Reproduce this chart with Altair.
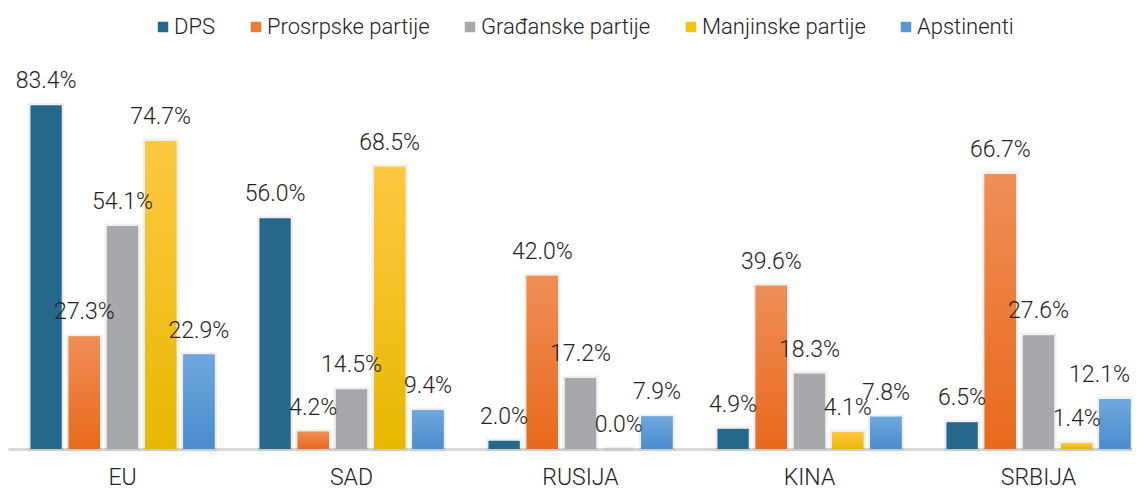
import altair as alt
import pandas as pd

groups = ["EU", "SAD", "RUSIJA", "KINA", "SRBIJA"]
series = ["DPS", "Prosrpske partije", "Građanske partije", "Manjinske partije", "Apstinenti"]

dps = [83.4, 56.0, 2.0, 4.9, 6.5]
prosrpske = [27.3, 4.2, 42.0, 39.6, 66.7]
gradjanske = [54.1, 14.5, 17.2, 18.3, 27.6]
manjinske = [74.7, 68.5, 0.0, 4.1, 1.4]
apstinenti = [22.9, 9.4, 7.9, 7.8, 12.1]

solid = ["#26678C", "#EC7A30", "#A6A8AB", "#F7C20A", "#5898D6"]
grad_top = ["#26678C", "#F08E57", "#A6A8AB", "#FFC843", "#6FA8DC"]
grad_bot = ["#26678C", "#E8691B", "#A6A8AB", "#E8B800", "#4A8CCF"]

rows = []
for s, vals in zip(series, [dps, prosrpske, gradjanske, manjinske, apstinenti]):
    for g, v in zip(groups, vals):
        rows.append({"group": g, "series": s, "value": v})
df = pd.DataFrame(rows)
df["label"] = df["value"].map(lambda v: f"{v:.1f}%")

FONT = "Roboto"
FW = 300

x_enc = alt.X(
    "group:N",
    sort=groups,
    title=None,
    scale=alt.Scale(paddingInner=0.166, paddingOuter=0.083, round=False),
    axis=alt.Axis(
        labelAngle=0, ticks=False, domainColor="#D9D9D9", domainWidth=3,
        labelFontSize=23, labelPadding=17, labelColor="#222222",
        labelFont=FONT, labelFontWeight=FW, grid=False,
    ),
)
xo_enc = alt.XOffset("series:N", sort=series,
                     scale=alt.Scale(domain=series, paddingInner=0.18,
                                     paddingOuter=0.09, round=False))
y_enc = alt.Y("value:Q", scale=alt.Scale(domain=[0, 90]), axis=None)

base = alt.Chart(df)

halo = base.mark_bar(fill="#000000", fillOpacity=0.0, stroke="#000000",
                     strokeOpacity=0.06, strokeWidth=5).encode(
    x=x_enc, xOffset=xo_enc, y=y_enc)

bars = base.mark_bar().encode(
    x=x_enc, xOffset=xo_enc, y=y_enc,
    color=alt.Color(
        "series:N", sort=series,
        scale=alt.Scale(domain=series, range=solid),
        legend=alt.Legend(
            orient="none", legendX=144, legendY=-62, direction="horizontal",
            title=None, symbolType="square", symbolSize=110, symbolStrokeWidth=0,
            labelFontSize=22, labelFont=FONT, labelFontWeight=FW, labelColor="#222222",
            columnPadding=29, labelOffset=0, labelLimit=0,
        ),
    ),
)

layers = [halo, bars]
for i, s in enumerate(series):
    if i in (0, 2):
        continue
    g = alt.Gradient(
        gradient="linear",
        stops=[alt.GradientStop(color=grad_top[i], offset=0),
               alt.GradientStop(color=grad_bot[i], offset=1)],
        x1=0, x2=0, y1=0, y2=1,
    )
    layers.append(
        base.mark_bar(color=g).encode(x=x_enc, xOffset=xo_enc, y=y_enc)
        .transform_filter(alt.datum.series == s)
    )

edge = (alt.datum.group == groups[-1]) & (alt.datum.series == series[-1])

text = base.mark_text(
    dy=-17, baseline="alphabetic", align="center", fontSize=23,
    font=FONT, fontWeight=FW, color="#222222",
).encode(x=x_enc, xOffset=xo_enc, y=y_enc, text="label:N").transform_filter(~edge)
layers.append(text)

# last label sits at the right edge of the window: keep it inside
text_edge = base.mark_text(
    dy=-17, dx=15, baseline="alphabetic", align="right", fontSize=23,
    font=FONT, fontWeight=FW, color="#222222",
).encode(x=x_enc, xOffset=xo_enc, y=y_enc, text="label:N").transform_filter(edge)
layers.append(text_edge)

chart = alt.layer(*layers).properties(
    width=1145, height=371,
    autosize=alt.AutoSizeParams(type="none"),
    padding={"left": 0, "top": 70, "right": -21, "bottom": 40},
).configure_view(stroke=None)

chart.save("out.html", embed_options={"renderer": "svg", "actions": False})
